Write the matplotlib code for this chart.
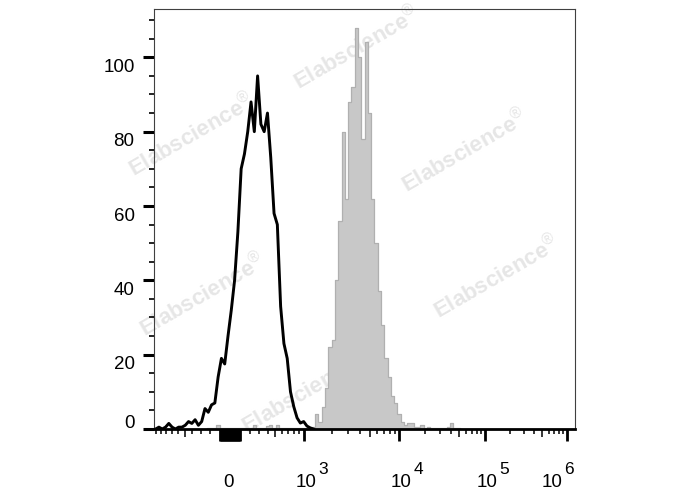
import numpy as np
import matplotlib
matplotlib.use("Agg")
import matplotlib.pyplot as plt
from matplotlib.ticker import FixedLocator, NullFormatter
from matplotlib.transforms import ScaledTranslation

plt.rcParams['font.family'] = ['Liberation Sans', 'DejaVu Sans']
plt.rcParams['mathtext.fontset'] = 'custom'
plt.rcParams['mathtext.rm'] = 'Liberation Sans'
plt.rcParams['mathtext.bf'] = 'Liberation Sans:bold'

# ---------------- data ----------------
# histogram counts per display channel (128 channels, uniform on the biexponential axis)
N_CHANNELS = 128
control_start = 0
control_counts = [0, 0.5, 0, 0.5, 1.5, 0.5, 0, 0.5, 0.5, 1, 2, 1.5, 2.5, 1, 2,
                  5.5, 4.5, 6.5, 7, 14, 19, 17.5, 25, 32, 40, 53, 70, 74, 80, 88,
                  80, 95, 82, 80, 85, 73, 58, 55, 33, 23, 19, 10, 6, 3, 1.6, 2,
                  0.8, 0.3, 0]
stained_start = 15
stained_counts = [0, 0.3, 0.3, 0.3, 1.2, 0.3, 0.3, 0.3, 0.3, 0.3, 0.3, 0.3, 0.3,
                  0.3, 0.3, 1.0, 0.3, 0.3, 0.3, 0.8, 1.2, 0.3, 1.0, 0.3, 0.3, 0.3,
                  0.3, 0.3, 0.3, 0.3, 0.3, 0.3, 0.3, 0.5, 4, 2, 6, 11, 22, 24, 40,
                  56, 80, 62, 88, 92, 108, 100, 78, 104, 85, 62, 50, 37, 28, 19,
                  14, 9, 7, 4, 2, 1, 1.5, 1.5, 0.5, 0.5, 1, 0.3, 0.5, 0.3, 0.3,
                  0.3, 0.3, 0.3, 0.5, 1.5, 0.3, 0.3, 0]

y_major = [0, 20, 40, 60, 80, 100]
x_label_values = [0, 1e3, 1e4, 1e5, 1e6]
x_label_exponents = ['', '3', '4', '5', '6']
watermark_text = r"$\mathbf{Elabscience}^{\circledR}$"

# ---------------- biexponential-like scale ----------------
W = 500.0
ANCHOR_VALUES = np.array([-1e3, 0, 1e3, 1e4, 1e5, 1e6])
ANCHOR_POS = np.array([2.0, 76.0, 150.0, 245.0, 331.0, 413.0])   # display units
AXIS_SPAN = 421.0
U = np.arcsinh(ANCHOR_VALUES / W)
lo_slope = (ANCHOR_POS[1] - ANCHOR_POS[0]) / (U[1] - U[0])
hi_slope = (ANCHOR_POS[-1] - ANCHOR_POS[-2]) / (U[-1] - U[-2])
U_ext = np.concatenate([[U[0] - 5], U, [U[-1] + 5]])
P_ext = np.concatenate([[ANCHOR_POS[0] - 5 * lo_slope], ANCHOR_POS,
                        [ANCHOR_POS[-1] + 5 * hi_slope]])


def fwd(x):
    x = np.asarray(x, dtype=float)
    return np.interp(np.arcsinh(x / W), U_ext, P_ext)


def inv(p):
    p = np.asarray(p, dtype=float)
    return W * np.sinh(np.interp(p, P_ext, U_ext))


edges = np.linspace(0, AXIS_SPAN, N_CHANNELS + 1)
centers = 0.5 * (edges[:-1] + edges[1:])

ctrl_x = inv(centers[control_start:control_start + len(control_counts)])
stain_x = inv(centers[stained_start:stained_start + len(stained_counts)])

# ---------------- figure ----------------
fig = plt.figure(figsize=(6.88, 4.90), dpi=100)
ax = fig.add_axes([154 / 688, 1 - 429 / 490, 421 / 688, 420 / 490])
ax.set_xscale('function', functions=(fwd, inv))
ax.set_xlim(inv(0.0), inv(AXIS_SPAN))
ax.set_ylim(0, 113)

# watermarks
wm_pos = [(0.482, 0.905), (0.090, 0.700), (0.739, 0.660),
          (0.815, 0.360), (0.116, 0.319), (0.359, 0.088)]
for (wx, wy) in wm_pos:
    ax.text(wx, wy, watermark_text, transform=ax.transAxes, rotation=30,
            ha='center', va='center', fontsize=16,
            color='#e6e6e6', zorder=0.5, clip_on=False)

ax.fill_between(stain_x, stained_counts, 0, step='mid', color='#c8c8c8',
                edgecolor='#b0b0b0', linewidth=0.9, zorder=2)
ax.plot(ctrl_x, control_counts, color='black', linewidth=2.1, zorder=3)

# spines
for s in ['left', 'top', 'right']:
    ax.spines[s].set_linewidth(0.8)
    ax.spines[s].set_color('#404040')
ax.spines['bottom'].set_linewidth(2.0)
ax.spines['bottom'].set_color('black')

# y ticks
ax.yaxis.set_major_locator(FixedLocator(y_major))
ax.yaxis.set_minor_locator(FixedLocator([v for v in range(5, 113, 5) if v % 20]))
ax.tick_params(axis='y', which='major', length=8, width=2.2, labelsize=13.5,
               pad=6, direction='out', color='black')
ax.tick_params(axis='y', which='minor', length=3.6, width=1.2,
               direction='out', color='black')
for lbl, v in zip(ax.get_yticklabels(), y_major):
    dy = 5.2 if v == 0 else -5.8
    lbl.set_transform(lbl.get_transform() + ScaledTranslation(0, dy / 72, fig.dpi_scale_trans))

# x ticks
cluster = [s * v for v in range(10, 110, 10) for s in (-1, 1)]
x_major = sorted([0] + cluster + [1e3, 1e4, 1e5, 1e6])
x_medium = [-500, 500, 5e3, 5e4, 5e5]
x_minor = ([-s * 100 for s in (2, 3, 4, 6, 7, 8, 9, 10)] +
           [s * 100 for s in (2, 3, 4, 6, 7, 8, 9)] +
           [m * 10 ** d for d in (3, 4, 5) for m in (2, 3, 4, 6, 7, 8, 9)])
ax.xaxis.set_major_locator(FixedLocator(x_major))
ax.xaxis.set_minor_locator(FixedLocator(sorted(x_minor + x_medium)))
ax.xaxis.set_major_formatter(NullFormatter())
ax.xaxis.set_minor_formatter(NullFormatter())
ax.tick_params(axis='x', which='major', length=8.6, width=2.0,
               direction='out', color='black')
ax.tick_params(axis='x', which='minor', length=3.6, width=1.1,
               direction='out', color='black')
for t, loc in zip(ax.xaxis.get_minor_ticks(), ax.xaxis.get_minorticklocs()):
    if any(abs(loc - m) < 1e-6 * max(1, abs(m)) for m in x_medium):
        t.tick1line.set_markersize(6.0)

# x tick labels (base "10" with large raised exponent)
xt = ax.get_xaxis_transform()
for v, e in zip(x_label_values, x_label_exponents):
    dx = -1.0 if v == 0 else (-11.0 if v == 1e6 else 1.8)
    base = '0' if v == 0 else '10'
    ax.text(v, 0, base, transform=xt + ScaledTranslation(dx / 72, -41.5 / 72, fig.dpi_scale_trans),
            ha='center', va='baseline', fontsize=13.5, clip_on=False)
    if e:
        ax.text(v, 0, e, transform=xt + ScaledTranslation((dx + 8.8) / 72, -32.5 / 72, fig.dpi_scale_trans),
                ha='left', va='baseline', fontsize=12.5, clip_on=False)

fig.savefig('out.png', dpi=100)
